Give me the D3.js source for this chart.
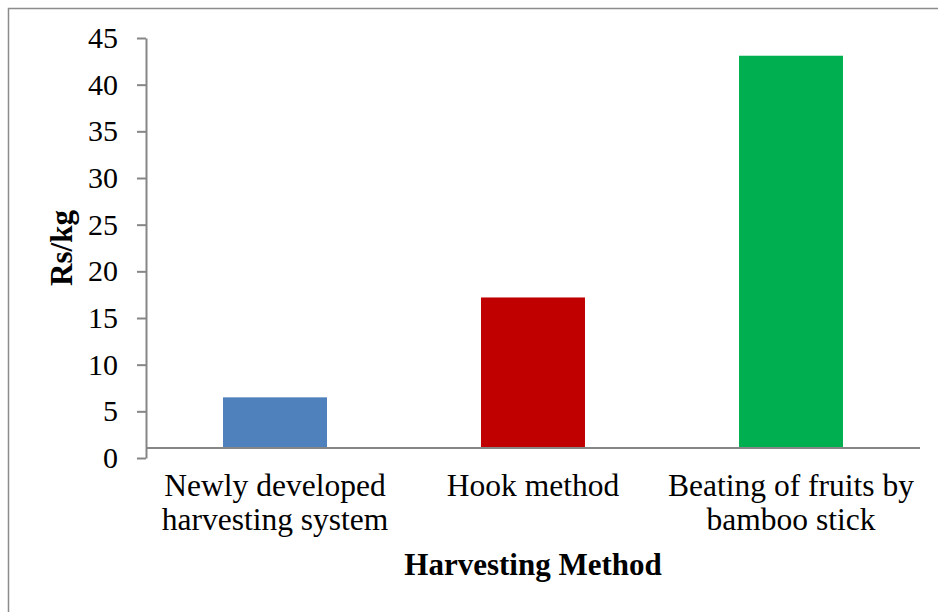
<!DOCTYPE html>
<html>
<head>
<meta charset="utf-8">
<script src="https://cdn.jsdelivr.net/npm/d3@7"></script>
<style>
  html, body { margin: 0; padding: 0; background: #fff; }
  svg { display: block; }
  text { font-family: "Liberation Serif", "Times New Roman", serif; fill: #000; }
</style>
</head>
<body>
<svg id="chart" width="938" height="612"></svg>
<script>
// Harvesting cost by method (Rs/kg)
const categories = [
  ["Newly developed", "harvesting system"],
  ["Hook method"],
  ["Beating of fruits by", "bamboo stick"]
];
const values = [6.5, 17.2, 43.1];
const colors = ["#4F81BD", "#C00000", "#00B050"];
const yTicks = [0, 5, 10, 15, 20, 25, 30, 35, 40, 45];
const yTitle = "Rs/kg";
const xTitle = "Harvesting Method";

(function () {
  const svg = d3.select("#chart");
  const W = 938, H = 612;
  const serif = "'Liberation Serif', 'Times New Roman', serif";

  // frame around the chart area
  svg.append("rect")
    .attr("x", 8.5).attr("y", 8.5)
    .attr("width", W + 10).attr("height", H + 10)
    .attr("fill", "none").attr("stroke", "#8c8c8c").attr("stroke-width", 1.5);

  const plotL = 146, plotR = 920, plotT = 38, plotB = 458;
  const axisY = plotB - 10; // category axis line sits just above the zero tick

  const x = d3.scaleBand()
    .domain(d3.range(categories.length))
    .range([plotL, plotR])
    .paddingInner(0.597)
    .paddingOuter(0.2985);

  const y = d3.scaleLinear().domain([0, 45]).range([plotB, plotT]);

  // bars
  svg.append("g").selectAll("rect")
    .data(values)
    .join("rect")
    .attr("x", (d, i) => x(i))
    .attr("width", x.bandwidth())
    .attr("y", d => y(d))
    .attr("height", d => axisY - y(d))
    .attr("fill", (d, i) => colors[i]);

  // value axis
  const yAxis = svg.append("g")
    .attr("transform", `translate(${plotL},0)`)
    .call(d3.axisLeft(y).tickValues(yTicks).tickSize(9).tickPadding(19).tickSizeOuter(0));
  yAxis.attr("font-family", serif);
  yAxis.select(".domain").attr("stroke", "#868686").attr("stroke-width", 2);
  yAxis.selectAll(".tick line").attr("stroke", "#868686").attr("stroke-width", 2);
  yAxis.selectAll(".tick text")
    .attr("font-family", serif)
    .attr("font-size", 30).attr("fill", "#000");

  // category axis line
  svg.append("line")
    .attr("x1", plotL).attr("x2", plotR)
    .attr("y1", axisY).attr("y2", axisY)
    .attr("stroke", "#868686").attr("stroke-width", 2);

  // category labels
  const catG = svg.append("g");
  categories.forEach((lines, i) => {
    const cx = x(i) + x.bandwidth() / 2;
    const t = catG.append("text")
      .attr("text-anchor", "middle")
      .attr("font-family", serif)
      .attr("font-size", 31.5);
    lines.forEach((ln, j) => {
      t.append("tspan").attr("x", cx).attr("y", 496 + j * 34).text(ln);
    });
  });

  // axis titles
  svg.append("text")
    .attr("x", (plotL + plotR) / 2).attr("y", 575)
    .attr("text-anchor", "middle")
    .attr("font-family", serif)
    .attr("font-size", 31).attr("font-weight", "bold")
    .text(xTitle);

  svg.append("text")
    .attr("transform", `translate(72,${(plotT + plotB) / 2}) rotate(-90)`)
    .attr("text-anchor", "middle")
    .attr("font-family", serif)
    .attr("font-size", 31).attr("font-weight", "bold")
    .text(yTitle);
})();
</script>
</body>
</html>
